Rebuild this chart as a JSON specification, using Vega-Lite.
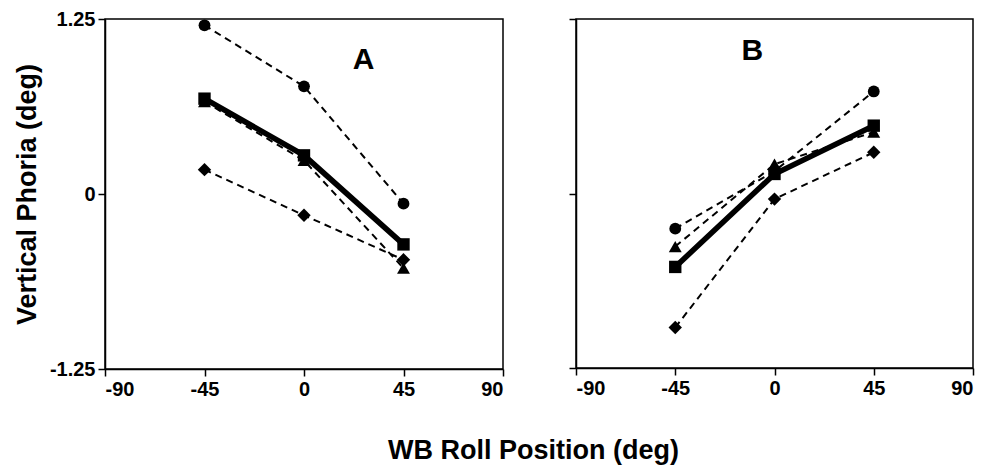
{
  "$schema": "https://vega.github.io/schema/vega-lite/v6.json",
  "background": "white",
  "padding": {"left": 12, "top": 8, "right": 0, "bottom": 5},
  "datasets": {
    "d": [
      {"panel": "A", "series": "circle", "x": -45, "y": 1.205},
      {"panel": "A", "series": "circle", "x": 0, "y": 0.769},
      {"panel": "A", "series": "circle", "x": 45, "y": -0.069},
      {"panel": "A", "series": "triangle", "x": -45, "y": 0.66},
      {"panel": "A", "series": "triangle", "x": 0, "y": 0.24},
      {"panel": "A", "series": "triangle", "x": 45, "y": -0.53},
      {"panel": "A", "series": "diamond", "x": -45, "y": 0.174},
      {"panel": "A", "series": "diamond", "x": 0, "y": -0.152},
      {"panel": "A", "series": "diamond", "x": 45, "y": -0.47},
      {"panel": "A", "series": "square", "x": -45, "y": 0.681},
      {"panel": "A", "series": "square", "x": 0, "y": 0.276},
      {"panel": "A", "series": "square", "x": 45, "y": -0.36},
      {"panel": "B", "series": "circle", "x": -45, "y": -0.252},
      {"panel": "B", "series": "circle", "x": 0, "y": 0.16},
      {"panel": "B", "series": "circle", "x": 45, "y": 0.731},
      {"panel": "B", "series": "triangle", "x": -45, "y": -0.38},
      {"panel": "B", "series": "triangle", "x": 0, "y": 0.21},
      {"panel": "B", "series": "triangle", "x": 45, "y": 0.44},
      {"panel": "B", "series": "diamond", "x": -45, "y": -0.96},
      {"panel": "B", "series": "diamond", "x": 0, "y": -0.04},
      {"panel": "B", "series": "diamond", "x": 45, "y": 0.295},
      {"panel": "B", "series": "square", "x": -45, "y": -0.526},
      {"panel": "B", "series": "square", "x": 0, "y": 0.14},
      {"panel": "B", "series": "square", "x": 45, "y": 0.486}
    ],
    "labels": [
      {"panel": "A", "x": 27, "y": 0.96, "t": "A"},
      {"panel": "B", "x": -10, "y": 1.02, "t": "B"}
    ]
  },
  "config": {
    "font": "Liberation Sans",
    "view": {"stroke": "black", "strokeWidth": 1.5},
    "axis": {
      "grid": false,
      "domainColor": "black",
      "domainWidth": 1.5,
      "tickColor": "black",
      "tickWidth": 1.5,
      "tickSize": 7,
      "labelPadding": 3,
      "labelFont": "Liberation Sans",
      "labelFontWeight": "bold",
      "labelFontSize": 20,
      "labelColor": "black",
      "titleFont": "Liberation Sans",
      "titleFontWeight": "bold",
      "titleFontSize": 27,
      "titleColor": "black"
    }
  },
  "title": {
    "text": "WB Roll Position (deg)",
    "orient": "bottom",
    "anchor": "middle",
    "fontSize": 27,
    "fontWeight": "bold",
    "font": "Liberation Sans",
    "color": "black",
    "offset": 38,
    "dx": 40
  },
  "spacing": 62,
  "hconcat": [
    {
      "width": 398,
      "height": 350,
      "layer": [
        {
          "data": {"name": "d"},
          "transform": [{"filter": "datum.panel === 'A' && datum.series !== 'square'"}],
          "mark": {"type": "line", "color": "black", "strokeWidth": 2, "strokeDash": [7, 5]},
          "encoding": {
            "x": {"field": "x", "type": "quantitative", "scale": {"domain": [-90, 90], "nice": false, "zero": false},
              "axis": {"values": [-90, -45, 0, 45, 90], "labelExpr": "'' + datum.value", "title": null}},
            "y": {"field": "y", "type": "quantitative", "scale": {"domain": [-1.25, 1.25], "nice": false, "zero": false},
              "axis": {"values": [-1.25, 0, 1.25], "labelExpr": "'' + datum.value", "title": "Vertical Phoria (deg)", "titlePadding": 8}},
            "detail": {"field": "series"}
          }
        },
        {
          "data": {"name": "d"},
          "transform": [{"filter": "datum.panel === 'A' && datum.series === 'square'"}],
          "mark": {"type": "line", "color": "black", "strokeWidth": 5.5},
          "encoding": {
            "x": {"field": "x", "type": "quantitative"},
            "y": {"field": "y", "type": "quantitative"}
          }
        },
        {
          "data": {"name": "d"},
          "transform": [{"filter": "datum.panel === 'A'"}],
          "mark": {"type": "point", "filled": true, "opacity": 1, "color": "black"},
          "encoding": {
            "x": {"field": "x", "type": "quantitative"},
            "y": {"field": "y", "type": "quantitative"},
            "shape": {"field": "series", "type": "nominal", "legend": null,
              "scale": {"domain": ["circle", "square", "triangle", "diamond"], "range": ["circle", "square", "triangle-up", "diamond"]}},
            "size": {"field": "series", "type": "nominal", "legend": null,
              "scale": {"domain": ["circle", "square", "triangle", "diamond"], "range": [140, 180, 140, 120]}}
          }
        },
        {
          "data": {"name": "labels"},
          "transform": [{"filter": "datum.panel === 'A'"}],
          "mark": {"type": "text", "fontSize": 30, "fontWeight": "bold", "color": "black", "font": "Liberation Sans"},
          "encoding": {
            "x": {"field": "x", "type": "quantitative"},
            "y": {"field": "y", "type": "quantitative"},
            "text": {"field": "t"}
          }
        }
      ]
    },
    {
      "width": 397,
      "height": 349,
      "layer": [
        {
          "data": {"name": "d"},
          "transform": [{"filter": "datum.panel === 'B' && datum.series !== 'square'"}],
          "mark": {"type": "line", "color": "black", "strokeWidth": 2, "strokeDash": [7, 5]},
          "encoding": {
            "x": {"field": "x", "type": "quantitative", "scale": {"domain": [-90, 90], "nice": false, "zero": false},
              "axis": {"values": [-90, -45, 0, 45, 90], "labelExpr": "'' + datum.value", "title": null}},
            "y": {"field": "y", "type": "quantitative", "scale": {"domain": [-1.25, 1.25], "nice": false, "zero": false},
              "axis": {"values": [-1.25, 0, 1.25], "labels": false, "title": null}},
            "detail": {"field": "series"}
          }
        },
        {
          "data": {"name": "d"},
          "transform": [{"filter": "datum.panel === 'B' && datum.series === 'square'"}],
          "mark": {"type": "line", "color": "black", "strokeWidth": 5.5},
          "encoding": {
            "x": {"field": "x", "type": "quantitative"},
            "y": {"field": "y", "type": "quantitative"}
          }
        },
        {
          "data": {"name": "d"},
          "transform": [{"filter": "datum.panel === 'B'"}],
          "mark": {"type": "point", "filled": true, "opacity": 1, "color": "black"},
          "encoding": {
            "x": {"field": "x", "type": "quantitative"},
            "y": {"field": "y", "type": "quantitative"},
            "shape": {"field": "series", "type": "nominal", "legend": null,
              "scale": {"domain": ["circle", "square", "triangle", "diamond"], "range": ["circle", "square", "triangle-up", "diamond"]}},
            "size": {"field": "series", "type": "nominal", "legend": null,
              "scale": {"domain": ["circle", "square", "triangle", "diamond"], "range": [140, 180, 140, 120]}}
          }
        },
        {
          "data": {"name": "labels"},
          "transform": [{"filter": "datum.panel === 'B'"}],
          "mark": {"type": "text", "fontSize": 30, "fontWeight": "bold", "color": "black", "font": "Liberation Sans"},
          "encoding": {
            "x": {"field": "x", "type": "quantitative"},
            "y": {"field": "y", "type": "quantitative"},
            "text": {"field": "t"}
          }
        }
      ]
    }
  ]
}
